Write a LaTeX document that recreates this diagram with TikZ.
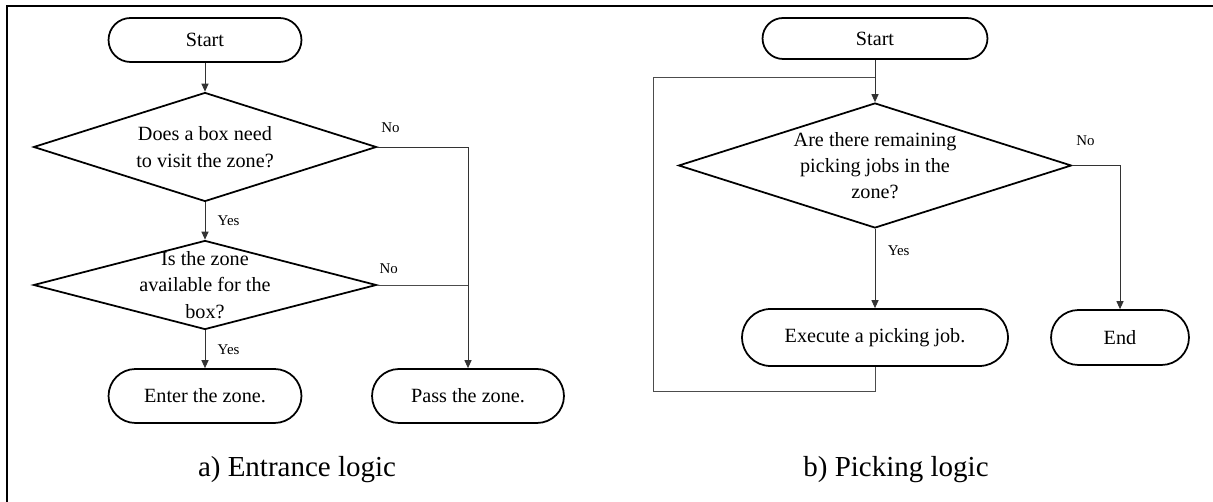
\documentclass[tikz,border=0pt]{standalone}
\usepackage{fontspec}
\setmainfont{Liberation Serif}
\usepackage{tikz}
\usetikzlibrary{arrows.meta, shapes.geometric, shapes.misc, positioning}

\begin{document}
\begin{tikzpicture}[x=0.02cm, y=0.02cm,
    terminal/.style={draw, line width=1pt, rounded rectangle, inner sep=2pt,
                     font=\fontsize{11.5}{15}\selectfont},
    decision/.style={draw, line width=1pt, diamond, inner sep=-4pt, align=center,
                     font=\fontsize{11.5}{15}\selectfont},
    flow/.style={draw=black!80, line width=0.5pt, -{Triangle[length=4.5pt, width=4pt]}},
    link/.style={draw=black!70, line width=0.5pt},
    lbl/.style={font=\fontsize{8.5}{10}\selectfont, inner sep=1pt},
    caption/.style={font=\fontsize{16.5}{20}\selectfont}]
  \useasboundingbox (0,0) rectangle (1213,-502);
  \draw[line width=1.2pt] (7,-502) -- (7,-6) -- (1213,-6);

  % a) entrance logic
  \node[terminal, minimum width=4cm, minimum height=0.88cm] (startA) at (205,-40) {Start};
  \node[decision, aspect=3.15, minimum width=6.86cm, minimum height=2.18cm] (q1) at (205,-147)
    {Does a box need\\to visit the zone?};
  \node[decision, aspect=3.85, minimum width=6.86cm, minimum height=1.78cm] (q2) at (205,-285)
    {Is the zone\\available for the\\box?};
  \node[terminal, minimum width=4cm, minimum height=1.08cm] (enter) at (205,-396) {Enter the zone.};
  \node[terminal, minimum width=3.98cm, minimum height=1.08cm] (pass) at (468,-396) {Pass the zone.};
  \node[caption] (capA) at (297,-470) {a) Entrance logic};

  \draw[flow] (startA.south) -- (q1.north);
  \draw[flow] (q1.south) -- node[lbl, right=6pt] {Yes} (q2.north);
  \draw[flow] (q2.south) -- node[lbl, right=6pt] {Yes} (enter.north);
  \draw[flow] (q1.east) -| node[lbl, pos=0, above right=7pt and 1pt] {No} (pass.north);
  \draw[link] (q2.east) -- node[lbl, pos=0, above right=5pt and 0pt] {No} (q2.east -| pass.north);

  % b) picking logic
  \node[terminal, minimum width=4.64cm, minimum height=0.82cm] (startB) at (875,-38.5) {Start};
  \node[decision, aspect=3.14, minimum width=7.86cm, minimum height=2.5cm] (q3) at (875,-165.5)
    {Are there remaining\\picking jobs in the\\zone?};
  \node[terminal, minimum width=5.46cm, minimum height=1.14cm] (exec) at (875,-337.5) {Execute a picking job.};
  \node[terminal, minimum width=2.9cm, minimum height=1.1cm] (fin) at (1120,-337.5) {End};
  \node[caption] (capB) at (896,-470) {b) Picking logic};
  \coordinate (jnB) at (875,-77);
  \coordinate (loopB) at (653,-391);

  \draw[flow] (startB.south) -- (q3.north);
  \draw[flow] (q3.south) -- node[lbl, pos=0.27, right=6pt] {Yes} (exec.north);
  \draw[flow] (q3.east) -| node[lbl, pos=0, above right=10pt and 1pt] {No} (fin.north);
  \draw[link] (exec.south) |- (loopB) |- (jnB);
\end{tikzpicture}
\end{document}
